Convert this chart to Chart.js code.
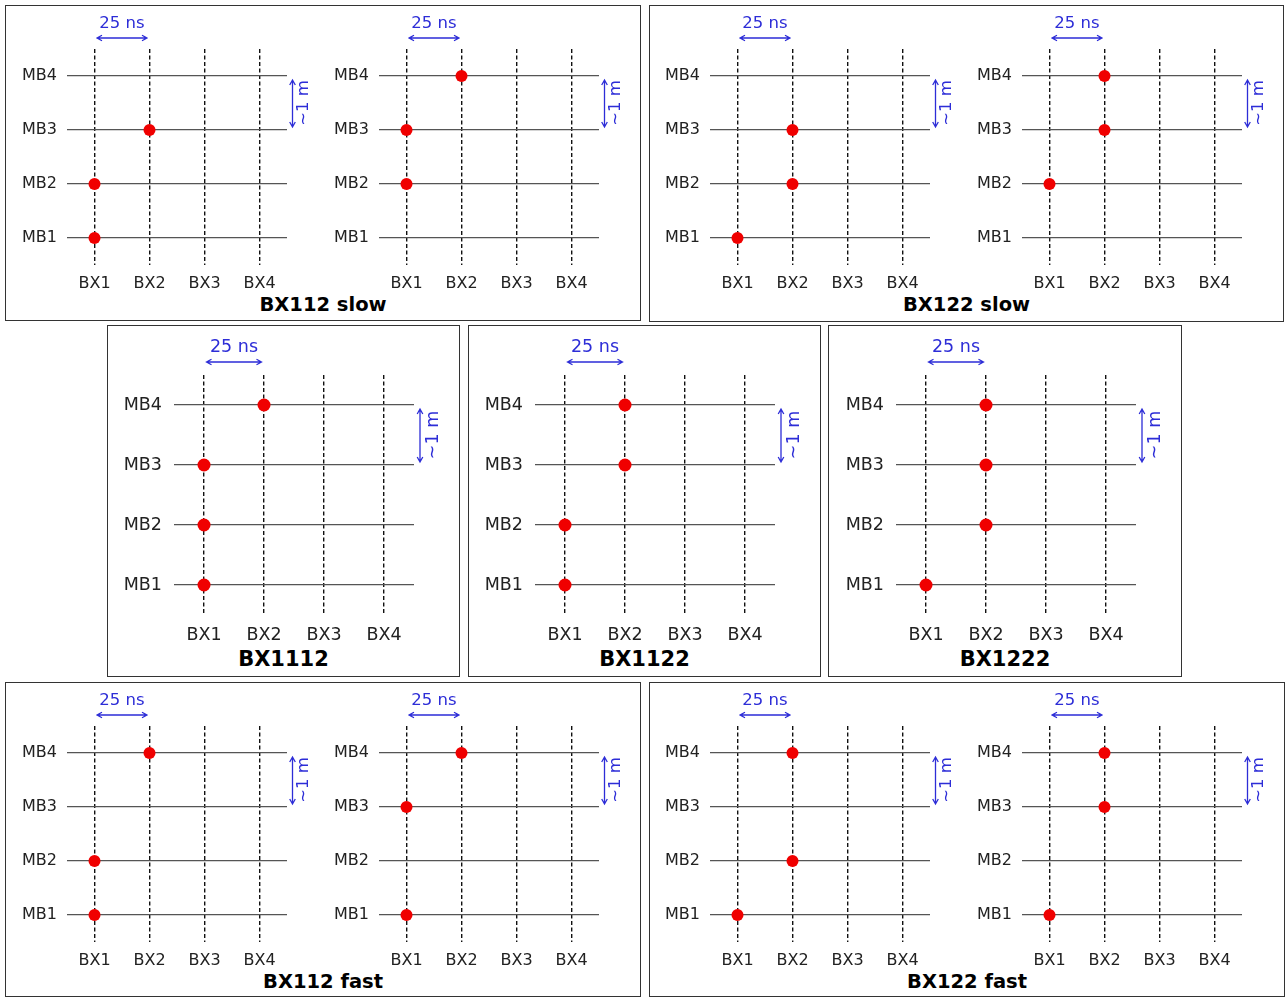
<!DOCTYPE html>
<html>
<head>
<meta charset="utf-8">
<script src="https://cdn.jsdelivr.net/npm/chart.js@4.4.1/dist/chart.umd.min.js"></script>
<style>
  body { margin: 0; background: #fff; }
  #fig { position: relative; width: 1287px; height: 998px; overflow: hidden; font-family: "DejaVu Sans", sans-serif; }
  .box { position: absolute; border: 1.5px solid #333; box-sizing: border-box; }
  .ttl { position: absolute; font-weight: bold; color: #000; transform: translate(-50%, -50%); white-space: nowrap; }
  canvas { position: absolute; }
</style>
</head>
<body>
<div id="fig"></div>
<script>
// axis labels
const bxLabels = ['BX1', 'BX2', 'BX3', 'BX4'];
const mbLabels = ['MB1', 'MB2', 'MB3', 'MB4'];

// bunch crossing of the hit in MB1..MB4 (null = no hit)
const slow112a = [1, 1, 2, null];
const slow112b = [null, 1, 1, 2];
const slow122a = [1, 2, 2, null];
const slow122b = [null, 1, 2, 2];
const bx1112 = [1, 1, 1, 2];
const bx1122 = [1, 1, 2, 2];
const bx1222 = [1, 2, 2, 2];
const fast112a = [1, 1, null, 2];
const fast112b = [1, null, 1, 2];
const fast122a = [1, 2, null, 2];
const fast122b = [1, null, 2, 2];

const panelTitles = ['BX112 slow', 'BX122 slow', 'BX1112', 'BX1122', 'BX1222', 'BX112 fast', 'BX122 fast'];

const timeNote = '25 ns';
const distNote = '~1 m';

// ---- layout ----
const fig = document.getElementById('fig');

const boxes = [
    { l: 5, t: 5, r: 641, b: 321, title: 0, size: 19.5, ty: 304 },
    { l: 649, t: 5, r: 1284, b: 322, title: 1, size: 19.5, ty: 304 },
    { l: 107, t: 325, r: 460, b: 677, title: 2, size: 21, ty: 659 },
    { l: 468, t: 325, r: 821, b: 677, title: 3, size: 21, ty: 659 },
    { l: 828, t: 325, r: 1182, b: 677, title: 4, size: 21, ty: 659 },
    { l: 5, t: 682, r: 641, b: 997, title: 5, size: 19.5, ty: 981 },
    { l: 649, t: 682, r: 1285, b: 997, title: 6, size: 19.5, ty: 981 }
];

boxes.forEach(b => {
    const d = document.createElement('div');
    d.className = 'box';
    d.style.left = b.l + 'px';
    d.style.top = b.t + 'px';
    d.style.width = (b.r - b.l) + 'px';
    d.style.height = (b.b - b.t) + 'px';
    fig.appendChild(d);
    const t = document.createElement('div');
    t.className = 'ttl';
    t.textContent = panelTitles[b.title];
    t.style.left = ((b.l + b.r) / 2) + 'px';
    t.style.top = b.ty + 'px';
    t.style.fontSize = b.size + 'px';
    fig.appendChild(t);
});

const small = { ux: 55, uy: 54, yW: 62, padTop: 48, padRight: 40, xH: 34, font: 16, note: 16.5, dot: 6,
                padX: 9, padY: 10, arrowGap: 11, textGap: 14, sideGap: 5.5, sideText: 16.5 };
const big = { ux: 60, uy: 60, yW: 68, padTop: 52, padRight: 46, xH: 38, font: 17.5, note: 17.5, dot: 6.5,
              padX: 10, padY: 12, arrowGap: 13, textGap: 15, sideGap: 6, sideText: 19 };

const plots = [
    { hits: slow112a, g: small, x: 67, y: 49 },
    { hits: slow112b, g: small, x: 379, y: 49 },
    { hits: slow122a, g: small, x: 710, y: 49 },
    { hits: slow122b, g: small, x: 1022, y: 49 },
    { hits: bx1112, g: big, x: 174, y: 375 },
    { hits: bx1122, g: big, x: 535, y: 375 },
    { hits: bx1222, g: big, x: 896, y: 375 },
    { hits: fast112a, g: small, x: 67, y: 726 },
    { hits: fast112b, g: small, x: 379, y: 726 },
    { hits: fast122a, g: small, x: 710, y: 726 },
    { hits: fast122b, g: small, x: 1022, y: 726 }
];

const blue = 'rgb(45, 45, 215)';

function arrow(ctx, x1, y1, x2, y2) {
    const a = Math.atan2(y2 - y1, x2 - x1);
    const hl = 5, hw = 2.8;
    ctx.beginPath();
    ctx.moveTo(x1, y1);
    ctx.lineTo(x2, y2);
    [[x1, y1, a + Math.PI], [x2, y2, a]].forEach(([x, y, d]) => {
        const bx = x - hl * Math.cos(d), by = y - hl * Math.sin(d);
        ctx.moveTo(bx - hw * Math.sin(d), by + hw * Math.cos(d));
        ctx.lineTo(x, y);
        ctx.lineTo(bx + hw * Math.sin(d), by - hw * Math.cos(d));
    });
    ctx.stroke();
}

// 25 ns and ~1 m markers, placed from the scales
const notesPlugin = {
    id: 'bxNotes',
    afterDraw(chart, args, o) {
        const ctx = chart.ctx;
        const xs = chart.scales.x, ys = chart.scales.y;
        const area = chart.chartArea;
        ctx.save();
        ctx.strokeStyle = blue;
        ctx.fillStyle = blue;
        ctx.lineWidth = 1.3;
        ctx.font = o.font + 'px "DejaVu Sans"';
        ctx.textAlign = 'center';
        ctx.textBaseline = 'middle';

        const x1 = xs.getPixelForValue(1), x2 = xs.getPixelForValue(2);
        const ay = area.top - o.arrowGap;
        arrow(ctx, x1 + 2.5, ay, x2 - 2.5, ay);
        ctx.fillText(timeNote, (x1 + x2) / 2, ay - o.textGap);

        const y4 = ys.getPixelForValue(4), y3 = ys.getPixelForValue(3);
        const ax = area.right + o.sideGap;
        arrow(ctx, ax, y4 + 4, ax, y3 - 3);
        ctx.translate(area.right + o.sideText, (y3 + y4) / 2);
        ctx.rotate(-Math.PI / 2);
        ctx.fillText(distNote, 0, 0);
        ctx.restore();
    }
};

function fixedTicks(scale) {
    scale.ticks = [1, 2, 3, 4].map(v => ({ value: v }));
}

plots.forEach(p => {
    const g = p.g;
    const cv = document.createElement('canvas');
    const w = g.yW + 4 * g.ux + g.padRight;
    const h = g.padTop + 4 * g.uy + g.xH;
    cv.width = w;
    cv.height = h;
    cv.style.left = (p.x - g.yW) + 'px';
    cv.style.top = (p.y - g.padTop) + 'px';
    fig.appendChild(cv);

    const pts = [];
    p.hits.forEach((bx, i) => {
        if (bx !== null) pts.push({ x: bx, y: i + 1 });
    });

    new Chart(cv.getContext('2d'), {
        type: 'scatter',
        data: {
            datasets: [{
                data: pts,
                backgroundColor: 'rgb(240, 0, 0)',
                borderWidth: 0,
                pointRadius: g.dot,
                pointHoverRadius: g.dot
            }]
        },
        options: {
            responsive: false,
            animation: false,
            events: [],
            layout: { padding: { top: g.padTop, right: g.padRight, left: 0, bottom: 0 } },
            plugins: {
                legend: { display: false },
                tooltip: { enabled: false },
                bxNotes: { font: g.note, arrowGap: g.arrowGap, textGap: g.textGap, sideGap: g.sideGap, sideText: g.sideText }
            },
            scales: {
                x: {
                    type: 'linear',
                    min: 0.5,
                    max: 4.5,
                    afterBuildTicks: fixedTicks,
                    afterFit: s => { s.height = g.xH; },
                    border: { display: false, dash: [4, 2.5] },
                    grid: { color: '#111', lineWidth: 1.4, drawTicks: false },
                    ticks: {
                        padding: g.padX,
                        color: '#222',
                        font: { family: 'DejaVu Sans', size: g.font },
                        maxRotation: 0,
                        callback: v => bxLabels[v - 1]
                    }
                },
                y: {
                    type: 'linear',
                    min: 0.5,
                    max: 4.5,
                    afterBuildTicks: fixedTicks,
                    afterFit: s => { s.width = g.yW; },
                    border: { display: false },
                    grid: { color: '#555', lineWidth: 1.2, drawTicks: false },
                    ticks: {
                        padding: g.padY,
                        color: '#222',
                        font: { family: 'DejaVu Sans', size: g.font },
                        callback: v => mbLabels[v - 1]
                    }
                }
            }
        },
        plugins: [notesPlugin]
    });
});
</script>
</body>
</html>
